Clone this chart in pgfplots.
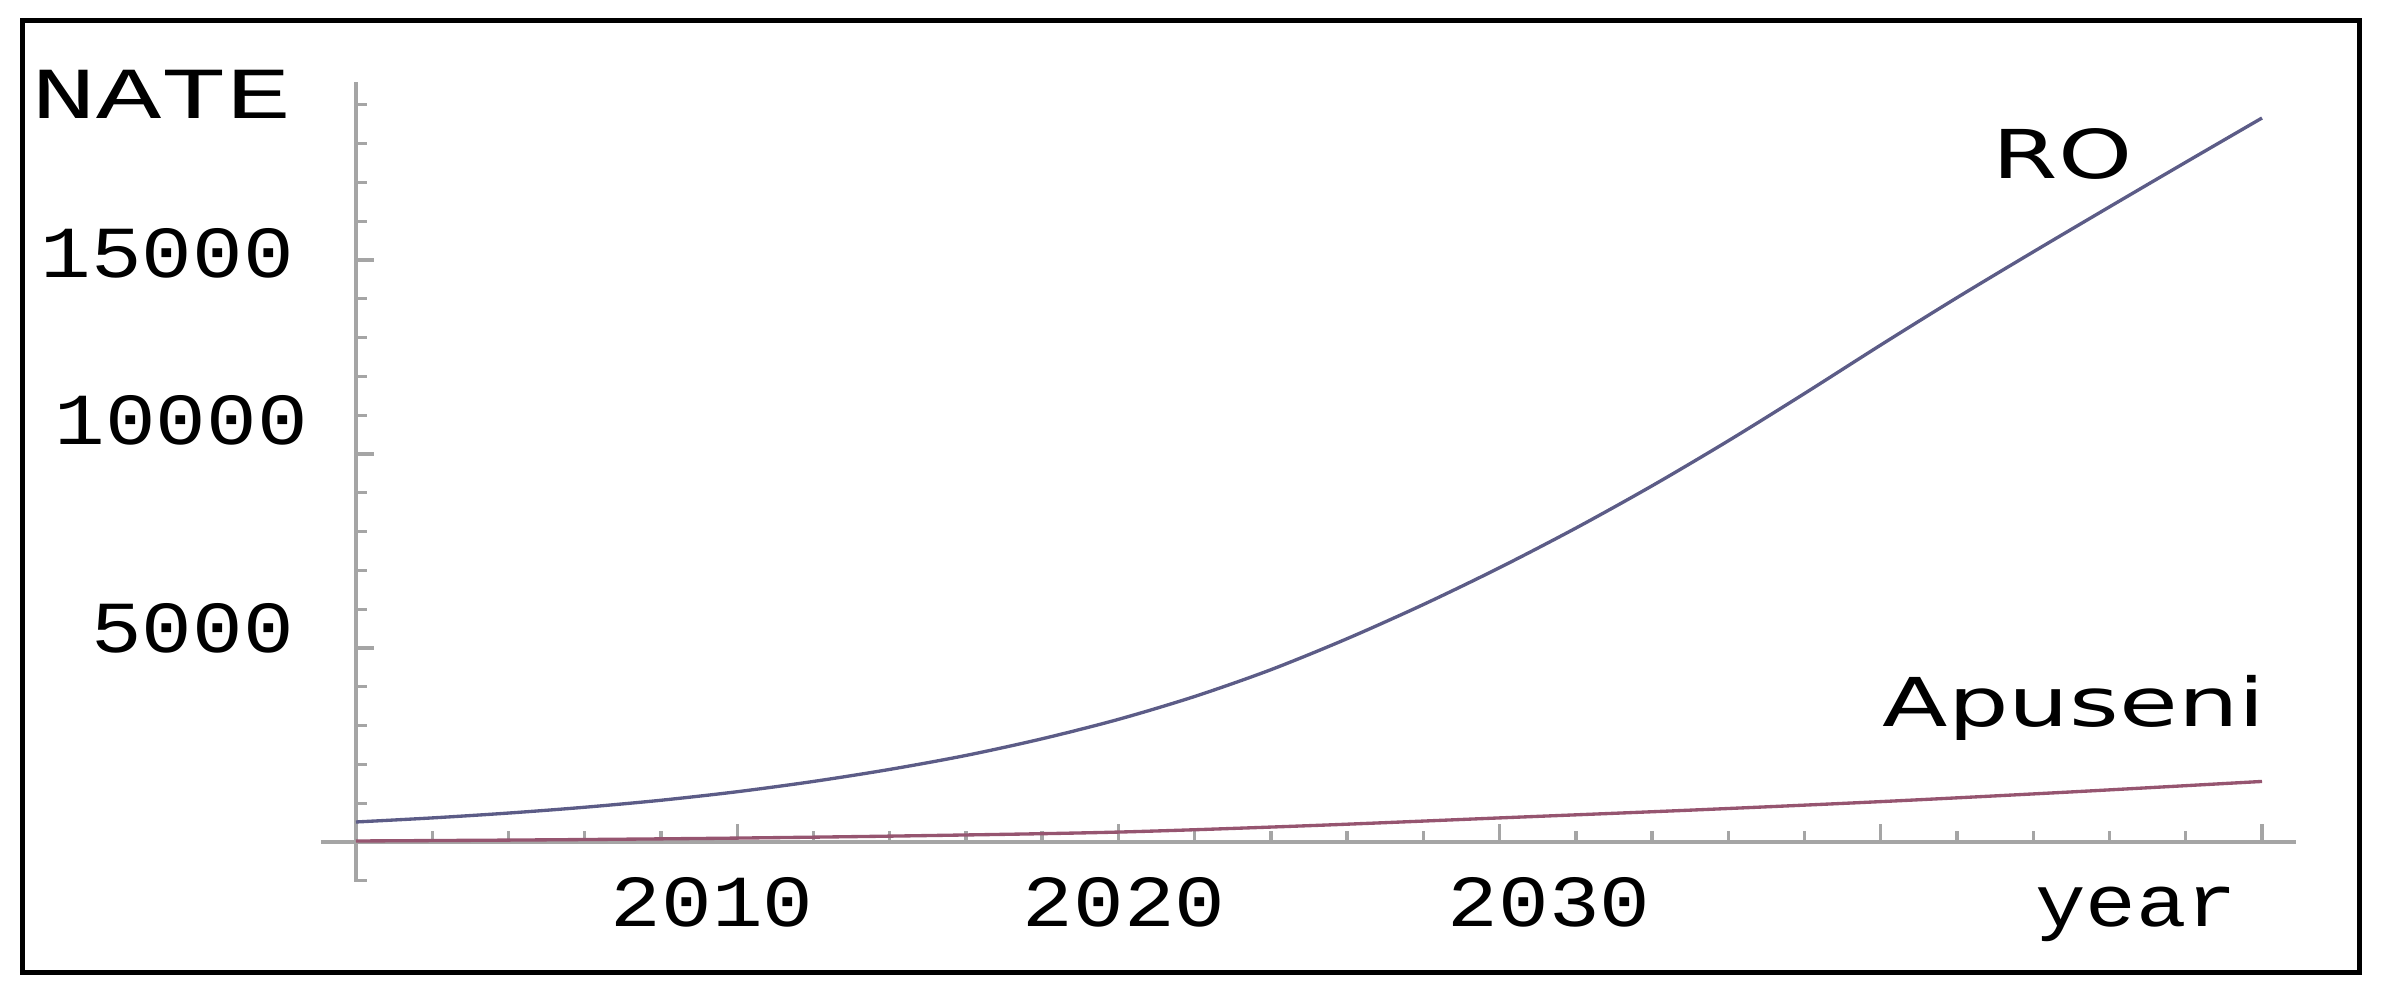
\documentclass[border=0pt]{standalone}
\usepackage{fontspec}
\setmainfont{Liberation Mono}
\newfontfamily\labelfont{DejaVu Sans}
\usepackage{graphicx}
\usepackage{pgfplots}
\pgfplotsset{compat=1.18}

\definecolor{axisgray}{RGB}{165,165,165}
\definecolor{rocol}{RGB}{92,92,135}
\definecolor{apcol}{RGB}{150,85,112}

% the original text is stretched sideways
\newcommand{\tl}[1]{\scalebox{1.15}[1]{#1}}

\begin{document}
\begin{tikzpicture}
\begin{axis}[
  scale only axis,
  width=296.3pt, height=120.0pt,
  axis lines=middle,
  axis line style={-, draw=axisgray, line width=0.55pt},
  clip=false,
  scaled ticks=false,
  x coord trafo/.code={\pgfmathparse{#1-2000}},
  x coord inv trafo/.code={\pgfmathparse{#1+2000}},
  xmin=1999.08, xmax=2050.9,
  ymin=-1030, ymax=19590,
  xtick={2000,2010,...,2050}, xticklabels={},
  ytick={0,5000,10000,15000}, yticklabels={},
  minor xtick={2002,2004,...,2048},
  minor ytick={-1000,0,...,19000},
  tick align=inside,
  tick style={draw=axisgray, line width=0.5pt},
  major tick length=2.7pt, minor tick length=1.7pt,
  typeset ticklabels with strut,
  tick label style={font=\fontsize{11}{13}\selectfont, text=black},
  extra x ticks={2009.34,2020.15,2031.3,2046.7},
  extra x tick labels={\tl{2010},\tl{2020},\tl{2030},\tl{year}},
  extra x tick style={major tick length=0pt, tick style={draw=none}},
  extra y ticks={5438,10799,15103},
  extra y tick labels={\tl{5000},\tl{10000}\kern-2.1pt,\tl{15000}},
  extra y tick style={major tick length=0pt, tick style={draw=none},
                      yticklabel style={xshift=-5.8pt, yshift=-0.7pt}},
]
% RO
\addplot[rocol, line width=0.5pt, smooth] coordinates {
  (2000,515) (2002,620) (2004,745) (2006,895) (2008,1075) (2010,1295)
  (2012,1560) (2014,1870) (2016,2230) (2018,2660) (2020,3160) (2022,3750)
  (2024,4440) (2026,5240) (2028,6120) (2030,7070) (2032,8090) (2034,9180)
  (2036,10340) (2038,11560) (2040,12810) (2042,14030) (2044,15210)
  (2046,16370) (2048,17520) (2050,18660)
};
% Apuseni
\addplot[apcol, line width=0.5pt, smooth] coordinates {
  (2000,25) (2005,55) (2010,100) (2015,165) (2020,255) (2025,420)
  (2030,620) (2035,820) (2040,1040) (2045,1290) (2050,1560)
};
\node[anchor=base, inner sep=0pt, font=\labelfont\fontsize{10.1}{12}\selectfont]
  at (axis cs:2044.77,17088) {\scalebox{1.4}[1]{RO}};
\node[anchor=base, inner sep=0pt, font=\labelfont\fontsize{10.1}{12}\selectfont]
  at (axis cs:2045.07,2964) {\scalebox{1.42}[1]{Apuseni}};
\node[anchor=east, inner sep=0pt, xshift=-9.45pt, font=\fontsize{11}{13}\selectfont]
  at (axis cs:2000,19278) {\scalebox{1.48}[1]{NATE}};
\coordinate (fbl) at (axis cs:1991.264,-3376);
\coordinate (ftr) at (axis cs:2052.545,21160);
\coordinate (bbl) at (axis cs:1990.661,-4072);
\coordinate (btr) at (axis cs:2053.122,21701);
\end{axis}
\draw[line width=0.75pt] (fbl) rectangle (ftr);
\pgfresetboundingbox
\path[use as bounding box] (bbl) rectangle (btr);
\end{tikzpicture}
\end{document}
